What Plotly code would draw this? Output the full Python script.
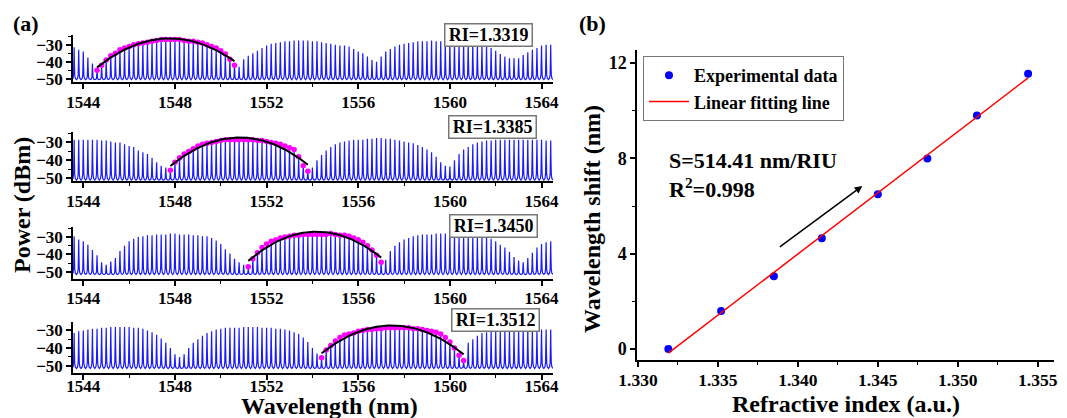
import numpy as np
import plotly.graph_objects as go

FONT = "Liberation Serif"

# ---------------- Panel (a): transmission comb spectra ----------------
WAVELENGTH = [
    1543.6, 1543.8, 1544.0, 1544.2, 1544.4, 1544.6, 1544.8, 1545.0, 1545.2, 1545.4,
    1545.6, 1545.8, 1546.0, 1546.2, 1546.4, 1546.6, 1546.8, 1547.0, 1547.2, 1547.4,
    1547.6, 1547.8, 1548.0, 1548.2, 1548.4, 1548.6, 1548.8, 1549.0, 1549.2, 1549.4,
    1549.6, 1549.8, 1550.0, 1550.2, 1550.4, 1550.6, 1550.8, 1551.0, 1551.2, 1551.4,
    1551.6, 1551.8, 1552.0, 1552.2, 1552.4, 1552.6, 1552.8, 1553.0, 1553.2, 1553.4,
    1553.6, 1553.8, 1554.0, 1554.2, 1554.4, 1554.6, 1554.8, 1555.0, 1555.2, 1555.4,
    1555.6, 1555.8, 1556.0, 1556.2, 1556.4, 1556.6, 1556.8, 1557.0, 1557.2, 1557.4,
    1557.6, 1557.8, 1558.0, 1558.2, 1558.4, 1558.6, 1558.8, 1559.0, 1559.2, 1559.4,
    1559.6, 1559.8, 1560.0, 1560.2, 1560.4, 1560.6, 1560.8, 1561.0, 1561.2, 1561.4,
    1561.6, 1561.8, 1562.0, 1562.2, 1562.4, 1562.6, 1562.8, 1563.0, 1563.2, 1563.4,
    1563.6, 1563.8, 1564.0, 1564.2, 1564.4,
]

POWER_RI_13319 = [
    -31.5, -33, -34, -37.5, -41, -45, -42, -39, -36.5, -35,
    -33, -32, -31, -30, -29.5, -29, -28.5, -28, -27.5, -27,
    -27, -27, -27, -27, -27.5, -28, -28, -28.5, -29, -30,
    -31, -32, -33.5, -35.5, -38.5, -42, -43, -38.5, -36.5, -35,
    -33.5, -32, -30.5, -29.5, -29, -28.5, -28, -28, -27.5, -27.5,
    -27.5, -27.5, -28, -28, -28.5, -29, -29.5, -30, -30.5, -30.5,
    -31, -32.5, -34, -35, -37, -39, -40, -37, -34, -32.5,
    -31, -30, -29.5, -29, -28.5, -28, -28, -28, -27.5, -28,
    -28, -28, -28, -28, -28.5, -28.5, -29, -29, -29.5, -30,
    -30.5, -32, -33.5, -35.5, -37, -38, -38, -38, -36, -34.5,
    -33, -32, -30.5, -30, -30,
]

POWER_RI_13385 = [
    -28.5, -28.5, -28.5, -28.5, -28.5, -28.5, -29, -29, -29.5, -30,
    -30, -31, -32, -32.5, -34.5, -35.5, -36.5, -38.5, -41, -43,
    -44, -45.5, -41, -38.5, -36.5, -35, -33.5, -32, -31, -30.5,
    -30, -29.5, -29, -28.5, -28.5, -28.5, -28.5, -28.5, -28.5, -28.5,
    -29, -29, -29.5, -30, -30.5, -31, -32, -33, -34, -38,
    -43, -46, -44, -40, -37, -34.5, -32.5, -31, -30, -29.5,
    -29, -28.5, -28.5, -28.5, -28, -28, -27.5, -27.5, -28, -28,
    -28.5, -29, -29.5, -30, -30.5, -31.5, -32.5, -34, -35.5, -38,
    -41, -43, -43.5, -40, -36.5, -34, -32.5, -31, -30, -29.5,
    -29, -29, -28.5, -28.5, -28.5, -28.5, -28.5, -28.5, -28.5, -28.5,
    -28.5, -28.5, -28.5, -29, -29,
]

POWER_RI_13450 = [
    -29.5, -31.5, -32.5, -34.5, -37.5, -40.5, -44.5, -46, -44, -42,
    -38, -35, -32.5, -31, -30, -29.5, -29, -29, -28.5, -28.5,
    -28.5, -28, -28, -28.5, -28.5, -28.5, -29, -29, -29.5, -29.5,
    -30.5, -32, -34, -37, -39.5, -42.5, -44.5, -46, -47, -42.5,
    -39, -36, -34, -32.5, -31.5, -30.5, -30, -29.5, -29, -29,
    -28.5, -28.5, -28.5, -28.5, -28.5, -28.5, -28, -28.5, -29, -29,
    -29.5, -30.5, -31.5, -33, -35, -37.5, -40.5, -44.5, -43, -38,
    -35, -33, -31.5, -30.5, -29.5, -29, -28.5, -28.5, -28.5, -28,
    -28, -28, -28, -28, -28.5, -28.5, -29, -29, -29.5, -30,
    -30, -31, -32.5, -34.5, -36, -38.5, -41.5, -43.5, -44.5, -42,
    -39, -36, -34, -33, -32.5,
]

POWER_RI_13512 = [
    -31.5, -30.5, -30, -29.5, -29, -29, -28.5, -28.5, -28, -28,
    -28, -28, -28, -28.5, -28.5, -29, -30, -31, -32.5, -34.5,
    -37, -40, -43.5, -45, -43.5, -40, -37, -35, -33, -31.5,
    -30.5, -29.5, -29, -28.5, -28.5, -28.5, -28.5, -28, -28, -28,
    -28, -28.5, -28.5, -28.5, -29, -29, -29.5, -30, -31, -32,
    -34, -36.5, -40, -43, -45.5, -41, -38.5, -36, -34, -32.5,
    -32, -31.5, -30.5, -30, -29.5, -29.5, -29, -29, -28.5, -28.5,
    -28.5, -28.5, -28.5, -28.5, -29, -29, -29.5, -30, -30.5, -31,
    -32, -34, -36.5, -40, -44, -47, -37, -35, -33, -31.5,
    -31, -30.5, -30.5, -30, -30, -30, -30, -30, -29.5, -29.5,
    -29.5, -29.5, -29.5, -29.5, -29.5,
]

SPECTRA = [POWER_RI_13319, POWER_RI_13385, POWER_RI_13450, POWER_RI_13512]
BASELINE = [-50.5, -51.0, -51.5, -51.5]
LOBE_START = [1544.6, 1547.8, 1551.2, 1554.4]
LOBE_END = [1550.6, 1553.8, 1557.0, 1560.6]
RI_LABELS = ["RI=1.3319", "RI=1.3385", "RI=1.3450", "RI=1.3512"]

# ---------------- Panel (b): sensitivity ----------------
REFRACTIVE_INDEX = [1.3319, 1.3352, 1.3385, 1.3415, 1.3450, 1.3481, 1.3512, 1.3544]
WAVELENGTH_SHIFT = [0.0, 1.6, 3.05, 4.65, 6.5, 8.0, 9.8, 11.55]

# The page body has an 8 px margin: the figure is offset by 8 px in the window.
OFF = 8
W, H = 1067, 418


def px_x(x):
    return (x - OFF) / W


def px_y(y):
    return 1 - (y - OFF) / H


# layout geometry (window pixels)
A_X = (73, 553)
A_PANELS_Y = [(35, 82), (132, 181), (227, 279), (322, 373)]
A_YRANGES = [(-51.9, -24.3), (-51.5, -24.2), (-54.1, -24.25), (-54.1, -25.2)]
A_STANDOFF = [-1, -1, -2, -8]
B_X = (637, 1054)
B_Y = (50, 360)

# spike profile used to render each comb line
OFFS = [-0.1, -0.05, -0.025, -0.01, 0.0, 0.01, 0.025, 0.05]
FRAC = [0.0, 0.04, 0.15, 0.55, 1.0, 0.55, 0.15, 0.04]

fig = go.Figure()

for k, (pw, base) in enumerate(zip(SPECTRA, BASELINE)):
    xa = "x" if k == 0 else f"x{k+1}"
    ya = "y" if k == 0 else f"y{k+1}"
    xs, ys = [], []
    for w, p in zip(WAVELENGTH, pw):
        for o, f in zip(OFFS, FRAC):
            xs.append(w + o)
            ys.append(base + (p - base) * f)
    xs.append(WAVELENGTH[-1] + 0.1)
    ys.append(base)
    fig.add_trace(go.Scatter(x=xs, y=ys, mode="lines", xaxis=xa, yaxis=ya,
                             line=dict(color="#1a1aff", width=1.2), showlegend=False,
                             hoverinfo="skip"))
    # lobe peaks (magenta) and their quadratic fit (black)
    sel = [(w, p) for w, p in zip(WAVELENGTH, pw)
           if LOBE_START[k] - 1e-6 <= w <= LOBE_END[k] + 1e-6]
    lw = [s[0] for s in sel]
    lp = [s[1] for s in sel]
    fig.add_trace(go.Scatter(x=lw, y=lp, mode="markers", xaxis=xa, yaxis=ya,
                             marker=dict(color="#ff00ff", size=5.5), showlegend=False))
    coef = np.polyfit(lw, lp, 2)
    fx = np.linspace(min(lw), max(lw), 120)
    fig.add_trace(go.Scatter(x=fx, y=np.polyval(coef, fx), mode="lines", xaxis=xa, yaxis=ya,
                             line=dict(color="black", width=2), showlegend=False))

# panel (b)
fig.add_trace(go.Scatter(x=REFRACTIVE_INDEX, y=WAVELENGTH_SHIFT, mode="markers",
                         xaxis="x5", yaxis="y5", name="Experimental data",
                         marker=dict(color="#0000ff", size=8)))
lin = np.polyfit(REFRACTIVE_INDEX, WAVELENGTH_SHIFT, 1)
lx = np.array([min(REFRACTIVE_INDEX), max(REFRACTIVE_INDEX)])
fig.add_trace(go.Scatter(x=lx, y=np.polyval(lin, lx), mode="lines",
                         xaxis="x5", yaxis="y5", name="Linear fitting line",
                         line=dict(color="#ff0000", width=1.5)))

tickfont_a = dict(family=FONT, size=17, color="black", weight="bold")
tickfont_b = dict(family=FONT, size=18, color="black", weight="bold")
tickfont_bx = dict(family=FONT, size=17.5, color="black", weight="bold")
base_axis = dict(showline=True, linecolor="black", linewidth=1.5, ticks="outside",
                 ticklen=5, tickwidth=1.5, tickcolor="black", showgrid=False,
                 zeroline=False, mirror=False, automargin=False)

layout = dict(width=W, height=H, margin=dict(l=0, r=0, t=0, b=0, pad=0, autoexpand=False),
              paper_bgcolor="white", plot_bgcolor="white",
              font=dict(family=FONT, color="black"))

for k in range(4):
    xn = "xaxis" if k == 0 else f"xaxis{k+1}"
    yn = "yaxis" if k == 0 else f"yaxis{k+1}"
    xa = "x" if k == 0 else f"x{k+1}"
    ya = "y" if k == 0 else f"y{k+1}"
    top, bot = A_PANELS_Y[k]
    layout[xn] = dict(base_axis, domain=[px_x(A_X[0]), px_x(A_X[1])], anchor=ya,
                      range=[1543.55, 1564.5], tickmode="linear", tick0=1544, dtick=4,
                      tickfont=tickfont_a, ticklabelstandoff=A_STANDOFF[k],
                      minor=dict(ticks="outside", ticklen=3, tickwidth=1.2,
                                 tickcolor="black", dtick=2, tick0=1544, showgrid=False))
    layout[yn] = dict(base_axis, domain=[px_y(bot), px_y(top)], anchor=xa,
                      range=list(A_YRANGES[k]), tickmode="linear", tick0=-50, dtick=10,
                      tickfont=tickfont_a,
                      minor=dict(ticks="outside", ticklen=3, tickwidth=1.2,
                                 tickcolor="black", dtick=5, tick0=-50, showgrid=False))

layout["xaxis5"] = dict(base_axis, domain=[px_x(B_X[0]), px_x(B_X[1])], anchor="y5",
                        range=[1.32994, 1.35602], tickmode="linear", tick0=1.33, dtick=0.005,
                        tickformat=".3f", tickfont=tickfont_bx, ticklabelstandoff=-2,
                        ticklabeloverflow="allow",
                        minor=dict(ticks="outside", ticklen=3, tickwidth=1.2,
                                   tickcolor="black", dtick=0.0025, tick0=1.33, showgrid=False))
layout["yaxis5"] = dict(base_axis, domain=[px_y(B_Y[1]), px_y(B_Y[0])], anchor="x5",
                        range=[-0.46, 12.55], tickmode="linear", tick0=0, dtick=4,
                        tickfont=tickfont_b,
                        minor=dict(ticks="outside", ticklen=3, tickwidth=1.2,
                                   tickcolor="black", dtick=2, tick0=0, showgrid=False))

layout["legend"] = dict(x=px_x(643), y=px_y(56), xanchor="left", yanchor="top",
                        bordercolor="#777777", borderwidth=1, bgcolor="white",
                        font=dict(family=FONT, size=18, color="black", weight="bold"),
                        itemwidth=40, tracegroupgap=0)

ann = []


def text_ann(txt, x, y, size, angle=0, xanchor="center"):
    ann.append(dict(text=txt, x=px_x(x), y=px_y(y), xref="paper", yref="paper",
                    showarrow=False, textangle=angle, xanchor=xanchor, yanchor="middle",
                    font=dict(family=FONT, size=size, color="black", weight="bold")))


text_ann("(a)", 26, 24, 22)
text_ann("(b)", 592, 23, 22)
text_ann("Power (dBm)", 22, 205, 24, angle=-90)
text_ann("Wavelength (nm)", 329, 406, 24)
text_ann("Wavelength shift (nm)", 592, 219, 24, angle=-90)
text_ann("Refractive index (a.u.)", 846, 404, 24)
text_ann("S=514.41 nm/RIU", 667, 160, 22, xanchor="left")
text_ann("R<sup>2</sup>=0.998", 667, 188, 22, xanchor="left")

RI_BOX_CENTERS = [(488, 35.5), (492.5, 127), (493, 225.5), (495, 320)]
for lbl, (cx, cy) in zip(RI_LABELS, RI_BOX_CENTERS):
    ann.append(dict(text=lbl, x=px_x(cx), y=px_y(cy), xref="paper", yref="paper",
                    showarrow=False, xanchor="center", yanchor="middle",
                    width=80, height=15, align="right", borderpad=3,
                    bordercolor="#777777", borderwidth=1.5, bgcolor="white",
                    font=dict(family=FONT, size=18, color="black", weight="bold")))

# arrow in panel (b)
ann.append(dict(x=1.34403, y=6.84, ax=1.33878, ay=4.24, xref="x5", yref="y5",
                axref="x5", ayref="y5", showarrow=True, arrowhead=2, arrowsize=1,
                arrowwidth=1.5, arrowcolor="black", text=""))

layout["annotations"] = ann
fig.update_layout(**layout)

fig.write_html("out.html")
